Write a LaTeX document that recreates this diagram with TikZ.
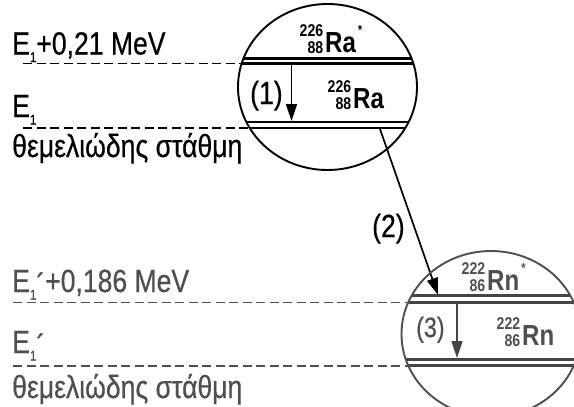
\documentclass[tikz,border=0pt]{standalone}
\usepackage{fontspec}
\setmainfont[FakeStretch=0.83, UprightFeatures={FakeBold=0.5}]{Liberation Sans}
\usetikzlibrary{arrows.meta}
\definecolor{low}{HTML}{4F4F4F}
\definecolor{lowline}{HTML}{444444}
\newcommand\sbone[1]{\raisebox{-7.5pt}{\fontsize{14}{14}\selectfont #1}}
\newcommand\acu{\raisebox{-4pt}{´}}
\newcommand\nucl[3]{%
 \llap{\fontsize{17}{17}\selectfont\bfseries\raisebox{16pt}{#1}\hspace{2pt}}%
 \llap{\fontsize{17}{17}\selectfont\bfseries\raisebox{-1pt}{#2}\hspace{2pt}}%
 {\fontsize{29}{29}\selectfont\bfseries #3}}
\newcommand\exc{\hspace{2pt}\raisebox{18pt}{\fontsize{13}{13}\selectfont *}}
\tikzset{
  lbl/.style={inner sep=0, anchor=base west, font=\fontsize{32}{32}\selectfont},
  nuc/.style={inner sep=0, anchor=base west},
  shell/.style={line width=1.9pt},
  lev/.style={line width=2.8pt},
  dsh/.style={line width=1.9pt, dash pattern=on 9pt off 4.5pt},
  decay/.style={line width=1.7pt, -{Triangle[length=17pt,width=11pt]}},
}
\begin{document}
\begin{tikzpicture}[x=1pt,y=-1pt]
\useasboundingbox (0,0) rectangle (574,407);
\fill[white] (0,0) rectangle (574,407);

% ---------- Ra (upper) ----------
\begin{scope}
  \clip (327.5,87) ellipse [x radius=89.5pt, y radius=83pt];
  \draw[lev] (230,58.5) -- (430,58.5);
  \draw[lev] (230,63.5) -- (430,63.5);
  \draw[lev] (230,122) -- (430,122);
  \draw[lev] (230,128) -- (430,128);
\end{scope}
\draw[shell] (327.5,87) ellipse [x radius=89.5pt, y radius=83pt];
\draw[dsh] (23,63.5) -- (242,63.5);
\draw[dsh] (23,128) -- (250,128);

\node[lbl] (t1) at (12,54.5) {E\sbone{1}+0,21 MeV};
\node[lbl] (t2) at (12,117) {E\sbone{1}};
\node[lbl] (t3) at (12,157) {θεμελιώδης στάθμη};

\node[nuc] (raex) at (325,52) {\nucl{226}{88}{Ra}\exc};
\node[nuc] (ra) at (353,108) {\nucl{226}{88}{Ra}};

\coordinate (a1s) at (291.5,65);
\coordinate (a1e) at (291.5,121);
\draw[decay] (a1s) -- (a1e);
\node[lbl] (l1) at (250,104) {(1)};

% ---------- arrow (2) ----------
\coordinate (a2s) at (380,129);
\coordinate (a2e) at (438,295);
\draw[decay] (a2s) -- (a2e);
\node[lbl] (l2) at (372,237) {(2)};

% ---------- Rn (lower) ----------
\begin{scope}
  \clip (491,334) ellipse [x radius=89.5pt, y radius=83pt];
  \draw[lev, lowline] (395,295.7) -- (590,295.7);
  \draw[lev, lowline] (395,302.5) -- (590,302.5);
  \draw[lev, lowline] (395,359.3) -- (590,359.3);
  \draw[lev, lowline] (395,365.7) -- (590,365.7);
\end{scope}
\draw[shell, low] (491,334) ellipse [x radius=89.5pt, y radius=83pt];
\draw[dsh, low] (13,302.5) -- (408,302.5);
\draw[dsh, low] (13,365.7) -- (408,365.7);

\node[lbl, text=low] (b1) at (12,292) {E\sbone{1}\acu+0,186 MeV};
\node[lbl, text=low] (b2) at (12,353) {E\sbone{1}\acu};
\node[lbl, text=low] (b3) at (12,398) {θεμελιώδης στάθμη};

\node[nuc, text=low] (rnex) at (487,290) {\nucl{222}{86}{Rn}\exc};
\node[nuc, text=low] (rn) at (522,345) {\nucl{222}{86}{Rn}};

\coordinate (a3s) at (457,304);
\coordinate (a3e) at (457,358);
\draw[decay, lowline] (a3s) -- (a3e);
\node[lbl, text=low, font=\fontsize{28}{28}\selectfont] (l3) at (416,337) {(3)};
\end{tikzpicture}
\end{document}
